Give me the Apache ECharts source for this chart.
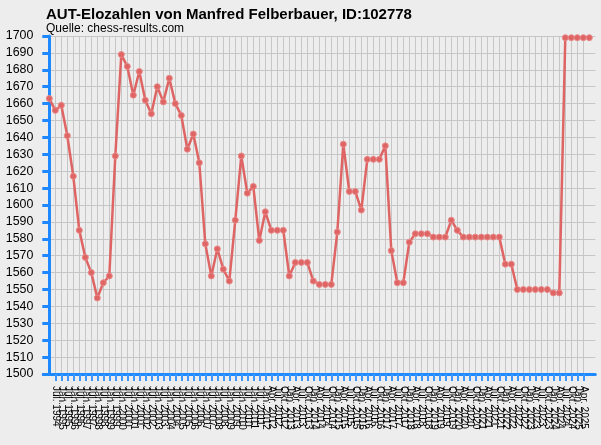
<!DOCTYPE html>
<html>
<head>
<meta charset="utf-8">
<script src="https://cdn.jsdelivr.net/npm/echarts@6/dist/echarts.min.js"></script>
<style>
html,body{margin:0;padding:0;background:#ededed;}
#c{width:601px;height:445px;}
</style>
</head>
<body>
<div id="c"></div>
<script>
var categories = [
 "Jan. 1994","Jul. 1994","Jan. 1995","Jul. 1995","Jan. 1996","Jul. 1996","Jan. 1997","Jul. 1997",
 "Jan. 1998","Jul. 1998","Jan. 1999","Jul. 1999","Jan. 2000","Jul. 2000","Jan. 2001","Jul. 2001",
 "Jan. 2002","Jul. 2002","Jan. 2003","Jul. 2003","Jan. 2004","Jul. 2004","Jan. 2005","Jul. 2005",
 "Jan. 2006","Jul. 2006","Jan. 2007","Jul. 2007","Jan. 2008","Jul. 2008","Jan. 2009","Jul. 2009",
 "Jan. 2010","Jul. 2010","Jan. 2011","Jul. 2011","Jan. 2012",
 "Apr. 2012","Jul. 2012","Okt. 2012",
 "Jan. 2013","Apr. 2013","Jul. 2013","Okt. 2013",
 "Jan. 2014","Apr. 2014","Jul. 2014","Okt. 2014",
 "Jan. 2015","Apr. 2015","Jul. 2015","Okt. 2015",
 "Jan. 2016","Apr. 2016","Jul. 2016","Okt. 2016",
 "Jan. 2017","Apr. 2017","Jul. 2017","Okt. 2017",
 "Jan. 2018","Apr. 2018","Jul. 2018","Okt. 2018",
 "Jan. 2019","Apr. 2019","Jul. 2019","Okt. 2019",
 "Jan. 2020","Apr. 2020","Jul. 2020","Okt. 2020",
 "Jan. 2021","Apr. 2021","Jul. 2021","Okt. 2021",
 "Jan. 2022","Apr. 2022","Jul. 2022","Okt. 2022",
 "Jan. 2023","Apr. 2023","Jul. 2023","Okt. 2023",
 "Jan. 2024","Apr. 2024","Jul. 2024","Okt. 2024",
 "Jan. 2025","Apr. 2025","Jul. 2025"
];
var elo = [
 1663,1656,1659,1641,1617,1585,1569,1560,1545,1554,
 1558,1629,1689,1682,1665,1679,1662,1654,1670,1661,
 1675,1660,1653,1633,1642,1625,1577,1558,1574,1562,
 1555,1591,1629,1607,1611,1579,1596,1585,1585,1585,
 1558,1566,1566,1566,1555,1553,1553,1553,1584,1636,
 1608,1608,1597,1627,1627,1627,1635,1573,1554,1554,
 1578,1583,1583,1583,1581,1581,1581,1591,1585,1581,
 1581,1581,1581,1581,1581,1581,1565,1565,1550,1550,
 1550,1550,1550,1550,1548,1548,1699,1699,1699,1699,
 1699
];
var yMin = 1500, yMax = 1700, yStep = 10;
var titleText = "AUT-Elozahlen von Manfred Felberbauer, ID:102778";
var subText = "Quelle: chess-results.com";

var idx = categories.map(function(_, i){ return i; });
var seriesData = elo.map(function(v, i){ return [i, v]; });

var chart = echarts.init(document.getElementById('c'));
chart.setOption({
  backgroundColor: '#ededed',
  animation: false,
  title: {
    text: titleText,
    subtext: subText,
    left: 41,
    top: 2,
    itemGap: 1,
    textStyle: {fontFamily: 'Liberation Sans', fontSize: 15, fontWeight: 'bold', color: '#000'},
    subtextStyle: {fontFamily: 'Liberation Sans', fontSize: 12, color: '#000'}
  },
  grid: {left: 43.3, right: 5.7, top: 36, bottom: 71, containLabel: false},
  xAxis: {
    type: 'value',
    min: -1, max: 91, interval: 1,
    axisLine: {show: true, onZero: false, lineStyle: {color: '#1e88ff', width: 3}},
    axisTick: {show: true, length: 7, customValues: idx, lineStyle: {color: '#3d97ff', width: 2}},
    axisLabel: {
      customValues: idx,
      rotate: -90, margin: 12,
      fontFamily: 'Liberation Sans', fontSize: 10, color: '#000',
      formatter: function(v){ return categories[v] || ''; }
    },
    splitLine: {show: true, showMinLine: false, showMaxLine: false, lineStyle: {color: '#c6c6c6', width: 1}}
  },
  yAxis: {
    type: 'value',
    min: yMin, max: yMax, interval: yStep,
    axisLine: {show: true, lineStyle: {color: '#1e88ff', width: 3}},
    axisTick: {show: true, length: 7, lineStyle: {color: '#1e88ff', width: 3}},
    axisLabel: {margin: 10, fontFamily: 'Liberation Sans', fontSize: 12.4, color: '#000',
      formatter: function(v){ return String(v); }},
    splitLine: {show: true, lineStyle: {color: '#c6c6c6', width: 1}}
  },
  series: [{
    type: 'line',
    data: seriesData,
    symbol: 'circle',
    symbolSize: 6,
    lineStyle: {color: '#df6464', width: 2.5},
    itemStyle: {color: '#df6464', borderColor: '#e98a8a', borderWidth: 1}
  }]
});
</script>
</body>
</html>
